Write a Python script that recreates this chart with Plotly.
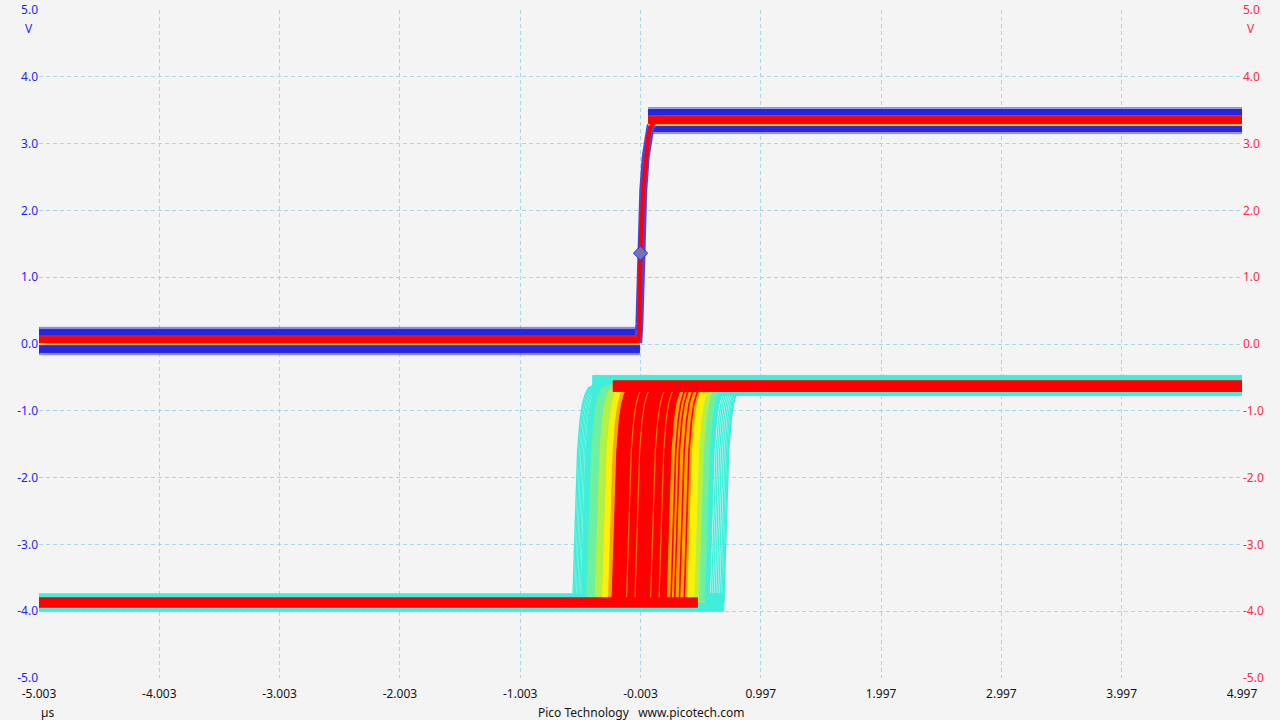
import plotly.graph_objects as go

# ---------------- axis / tick data ----------------
x_ticks = [-5.003, -4.003, -3.003, -2.003, -1.003, -0.003, 0.997, 1.997, 2.997, 3.997, 4.997]
x_ticklabels = ["-5.003", "-4.003", "-3.003", "-2.003", "-1.003", "-0.003",
                "0.997", "1.997", "2.997", "3.997", "4.997"]
y_ticks = [5, 4, 3, 2, 1, 0, -1, -2, -3, -4, -5]
y_ticklabels = ["5.0", "4.0", "3.0", "2.0", "1.0", "0.0", "-1.0", "-2.0", "-3.0", "-4.0", "-5.0"]

# ---------------- Channel A (blue, left axis) ----------------
A_core_t = [-5.003, -0.02, -0.012, -0.003, 0.02, 0.04, 0.06, 0.08, 0.12, 0.2, 4.997]
A_core_v = [0.07, 0.07, 0.3, 1.36, 2.3, 2.8, 3.1, 3.25, 3.33, 3.36, 3.36]
A_low_t = [-5.003, -0.012]
A_low_band = [-0.13, 0.22]       # lower / upper edge of the noise band
A_low_core = [0.02, 0.11]
A_high_t = [0.064, 4.997]
A_high_band = [3.18, 3.51]
A_high_core = [3.30, 3.41]
trigger_t = [-0.003]
trigger_v = [1.36]

# ---------------- Channel B (persistence, right axis) ----------------
B_edge_dt = [0, 0.01, 0.025, 0.04, 0.06, 0.08, 0.105, 0.13, 0.17, 0.2]
B_edge_v = [-3.87, -3.3, -2.4, -1.6, -1.15, -0.9, -0.74, -0.66, -0.62, -0.61]
B_zone_start = [-0.50, -0.45, -0.38, -0.32, -0.27, -0.24]
B_zone_end = [0.57, 0.53, 0.48, 0.44, 0.38, 0.21]
B_zone_colors = ["rgb(64,238,218)", "rgb(110,240,160)", "rgb(180,240,70)",
                 "rgb(250,240,10)", "rgb(255,165,0)", "rgb(255,0,0)"]
B_cyan_lines = [-0.566, -0.556, -0.545, -0.533, -0.522, -0.511,
                0.585, 0.6, 0.615, 0.63, 0.645, 0.66, 0.672, 0.683, 0.69]
B_red_lines = [0.25, 0.28, 0.32, 0.36]
B_yellow_lines = [-0.12, -0.05, 0.08, 0.15]
B_low_cyan_t = [-5.003, 0.69]
B_low_cyan_v = [-4.0, -3.74]
B_low_red_t = [-5.003, 0.47]
B_low_red_v = [-3.94, -3.80]
B_high_cyan_t = [-0.40, 4.997]
B_high_cyan_v = [-0.77, -0.47]
B_high_red_t = [-0.23, 4.997]
B_high_red_v = [-0.71, -0.55]

BG = "rgb(244,244,244)"
GRID = "rgb(165,215,235)"
BLUE = "rgb(38,38,225)"
RED = "rgb(255,0,0)"

fig = go.Figure()


def band(t, v, color, yaxis, opacity=1.0):
    xs = [t[0], t[1], t[1], t[0], t[0]]
    ys = [v[0], v[0], v[1], v[1], v[0]]
    fig.add_trace(go.Scatter(x=xs, y=ys, mode="lines", fill="toself",
                             fillcolor=color, line=dict(color=color, width=1),
                             opacity=opacity, yaxis=yaxis, hoverinfo="skip",
                             showlegend=False))


def edge_line(t0, color, width, yaxis="y2"):
    fig.add_trace(go.Scatter(x=[t0 + d for d in B_edge_dt], y=B_edge_v, mode="lines",
                             line=dict(color=color, width=width), yaxis=yaxis,
                             hoverinfo="skip", showlegend=False))


def zone(a, b, color):
    xs = [a + d for d in B_edge_dt] + [b + d for d in reversed(B_edge_dt)] + [a]
    ys = B_edge_v + list(reversed(B_edge_v)) + [B_edge_v[0]]
    fig.add_trace(go.Scatter(x=xs, y=ys, mode="lines", fill="toself", fillcolor=color,
                             line=dict(color=color, width=1), yaxis="y2",
                             hoverinfo="skip", showlegend=False))


# ---- Channel B ----
band(B_low_cyan_t, B_low_cyan_v, B_zone_colors[0], "y2")
band(B_high_cyan_t, B_high_cyan_v, B_zone_colors[0], "y2")
for t0 in B_cyan_lines:
    edge_line(t0, B_zone_colors[0], 1.4)
for a, b, c in zip(B_zone_start, B_zone_end, B_zone_colors):
    zone(a, b, c)
for t0 in B_red_lines:
    edge_line(t0, RED, 1.6)
for t0 in B_yellow_lines:
    edge_line(t0, "rgb(255,120,0)", 1.2)
band(B_low_red_t, B_low_red_v, RED, "y2")
band(B_high_red_t, B_high_red_v, RED, "y2")

# ---- Channel A ----
band(A_low_t, [A_low_band[0] - 0.03, A_low_band[1] + 0.03], "rgba(90,90,235,0.55)", "y")
band(A_high_t, [A_high_band[0] - 0.03, A_high_band[1] + 0.03], "rgba(90,90,235,0.55)", "y")
band(A_low_t, A_low_band, BLUE, "y")
band(A_high_t, A_high_band, BLUE, "y")
fig.add_trace(go.Scatter(x=A_core_t, y=A_core_v, mode="lines",
                         line=dict(color="rgb(70,70,230)", width=8),
                         hoverinfo="skip", showlegend=False))
band(A_low_t, [A_low_core[0] - 0.03, A_low_core[1]], "rgb(230,190,60)", "y")
band(A_high_t, [A_high_core[0] - 0.03, A_high_core[1]], "rgb(230,190,60)", "y")
band(A_low_t, A_low_core, RED, "y")
band(A_high_t, A_high_core, RED, "y")
fig.add_trace(go.Scatter(x=A_core_t, y=A_core_v, mode="lines",
                         line=dict(color=RED, width=4),
                         hoverinfo="skip", showlegend=False))
fig.add_trace(go.Scatter(x=trigger_t, y=trigger_v, mode="markers",
                         marker=dict(symbol="diamond", size=11, color="rgb(115,115,175)",
                                     line=dict(color="rgb(40,40,255)", width=1)),
                         hoverinfo="skip", showlegend=False))

font_family = "Noto Sans, Open Sans, sans-serif"
fig.update_layout(
    width=1280, height=720,
    margin=dict(l=39, r=38, t=10, b=42, autoexpand=False),
    paper_bgcolor=BG, plot_bgcolor=BG,
    font=dict(family=font_family, size=12, color="black"),
    showlegend=False,
    xaxis=dict(range=[-5.003, 4.997], tickvals=x_ticks, ticktext=x_ticklabels,
               showgrid=True, gridcolor=GRID, griddash="4px,3px", gridwidth=1,
               zeroline=False, showline=False, ticks="", automargin=False,
               ticklabelstandoff=7,
               tickfont=dict(size=12, color="rgb(20,20,20)")),
    yaxis=dict(range=[-5, 5], tickvals=y_ticks, ticktext=y_ticklabels,
               showgrid=True, gridcolor=GRID, griddash="4px,3px", gridwidth=1,
               zeroline=False, showline=False, ticks="", automargin=False,
               tickfont=dict(size=12, color="rgb(30,30,255)")),
    yaxis2=dict(range=[-5, 5], tickvals=y_ticks, ticktext=y_ticklabels,
                overlaying="y", side="right", showgrid=False, automargin=False,
                zeroline=False, showline=False, ticks="",
                tickfont=dict(size=12, color="rgb(255,40,70)")),
    annotations=[
        dict(text="V", x=0, y=0.973, xref="paper", yref="paper", xanchor="right",
             yanchor="middle", xshift=-4, showarrow=False,
             font=dict(size=12, color="rgb(30,30,255)")),
        dict(text="V", x=1, y=0.973, xref="paper", yref="paper", xanchor="left",
             yanchor="middle", xshift=3, showarrow=False,
             font=dict(size=12, color="rgb(255,40,70)")),
        dict(text="µs", x=0, y=-0.052, xref="paper", yref="paper", xanchor="left",
             yanchor="middle", xshift=0, showarrow=False,
             font=dict(size=12, color="rgb(20,20,20)")),
        dict(text="Pico Technology   www.picotech.com", x=0.5, y=-0.052, xref="paper",
             yref="paper", xanchor="center", yanchor="middle", showarrow=False,
             font=dict(size=12, color="rgb(20,20,20)")),
    ],
)

fig.write_html("out.html", config={"displayModeBar": False},
               post_script="document.body.style.margin='0';")
